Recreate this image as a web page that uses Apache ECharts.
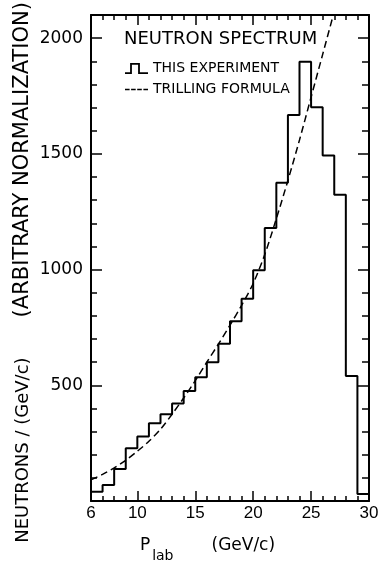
<!DOCTYPE html>
<html>
<head>
<meta charset="utf-8">
<script src="https://cdn.jsdelivr.net/npm/echarts@6/dist/echarts.min.js"></script>
<style>
html,body{margin:0;padding:0;background:#fff;}
#chart{width:382px;height:561px;}
</style>
</head>
<body>
<div id="chart"></div>
<script>
// ---- data ----
// histogram bins (lower edge, GeV/c), width 1 GeV/c
const binStarts = [6,7,8,9,10,11,12,13,14,15,16,17,18,19,20,21,22,23,24,25,26,27,28,29];
const binWidth = 1;
const counts = [40,69,138,228,279,336,375,421,475,535,600,680,777,874,997,1180,1375,1668,1898,1701,1493,1323,540,30];
// Trilling formula curve
const trillingP = [6,7,8,9,10,11,12,13,14,15,16,17,18,19,20,21,22,23,24,25,26,27];
const trillingN = [92,115,143,176,215,258,310,375,445,520,600,678,760,845,940,1065,1220,1385,1560,1745,1930,2115];
// ticks
const xTickLabels = [6,10,15,20,25,30];
const xMajorTicks = [10,15,20,25];
const xMinorTicks = [7,8,9,11,12,13,14,16,17,18,19,21,22,23,24,26,27,28,29];
const yTickLabels = [500,1000,1500,2000];
const yMinorTicks = [100,200,300,400,600,700,800,900,1100,1200,1300,1400,1600,1700,1800,1900];

const FONT = "'DejaVu Sans', sans-serif";
const INK = '#000';

const histData = binStarts.map((x, i) => [x, counts[i]]);
histData.push([binStarts[binStarts.length - 1] + binWidth, counts[counts.length - 1]]);
const trillingData = trillingP.map((x, i) => [x, trillingN[i]]);

const stepIcon = 'path://M0,9.2H5.1V0H14.9V9.2H23V11H13.1V1.8H6.9V11H0Z';
const dashIcon = 'path://M0,0h0.01v0.01h-0.01z M22.99,10.99h0.01v0.01h-0.01z M0,4.7h4.6v1.6h-4.6z M6.1,4.7h4.6v1.6h-4.6z M12.2,4.7h4.6v1.6h-4.6z M18.4,4.7h4.6v1.6h-4.6z';

function xAx(pos, ticks, len, showLine, showLabel) {
  return {
    type: 'value', min: 6, max: 30, interval: 1, position: pos,
    axisLine: { show: showLine, onZero: false, lineStyle: { color: INK, width: 2 } },
    axisTick: { show: true, inside: true, length: len, customValues: ticks, lineStyle: { color: INK, width: 1.5 } },
    axisLabel: showLabel ? { show: true, customValues: xTickLabels, margin: 4, color: INK,
      fontFamily: "'Liberation Sans', sans-serif", fontSize: 17, formatter: v => String(v) } : { show: false },
    splitLine: { show: false }
  };
}
function yAx(pos, ticks, len, showLine, showLabel) {
  return {
    type: 'value', min: 0, max: 2100, interval: 500, position: pos,
    axisLine: { show: showLine, onZero: false, lineStyle: { color: INK, width: 2 } },
    axisTick: { show: true, inside: true, length: len, customValues: ticks, lineStyle: { color: INK, width: 1.5 } },
    axisLabel: showLabel ? { show: true, customValues: yTickLabels, margin: 8, color: INK,
      fontFamily: FONT, fontSize: 17, formatter: v => String(v) } : { show: false },
    splitLine: { show: false }
  };
}

const xMain = xAx('bottom', xMajorTicks, 10, true, true);
xMain.name = '{p|P}{s|lab}{t|(GeV/c)}';
xMain.nameLocation = 'middle';
xMain.nameGap = 36;
xMain.nameMoveOverlap = false;
xMain.nameTextStyle = {
  padding: [0, 45, 0, 0],
  rich: {
    p: { fontFamily: FONT, fontSize: 17, lineHeight: 20, color: INK, verticalAlign: 'top' },
    s: { fontFamily: FONT, fontSize: 14, lineHeight: 16, color: INK, verticalAlign: 'top', padding: [12, 0, 0, 2] },
    t: { fontFamily: FONT, fontSize: 17, lineHeight: 20, color: INK, verticalAlign: 'top', padding: [0, 0, 0, 38] }
  }
};

const yMain = yAx('left', yTickLabels, 11, true, true);
yMain.name = '{a|NEUTRONS / (GeV/c)}{b|(ARBITRARY NORMALIZATION)}';
yMain.nameLocation = 'middle';
yMain.nameRotate = 90;
yMain.nameGap = 56;
yMain.nameMoveOverlap = false;
yMain.nameTextStyle = {
  padding: [0, 29, 0, 0],
  rich: {
    a: { fontFamily: FONT, fontSize: 18, lineHeight: 24, color: INK },
    b: { fontFamily: FONT, fontSize: 21, lineHeight: 24, color: INK, padding: [0, 0, 0, 40] }
  }
};

const chart = echarts.init(document.getElementById('chart'), null, { renderer: 'canvas' });
chart.setOption({
  animation: false,
  backgroundColor: '#fff',
  title: {
    text: 'NEUTRON SPECTRUM', left: 124, top: 29.5, padding: 0,
    textStyle: { fontFamily: FONT, fontSize: 18, lineHeight: 20, fontWeight: 'normal', color: INK }
  },
  legend: {
    orient: 'vertical', left: 125, top: 61.5, padding: 0,
    itemWidth: 23, itemHeight: 11, itemGap: 7,
    textStyle: { fontFamily: FONT, fontSize: 14, lineHeight: 14, color: INK },
    data: [
      { name: 'THIS EXPERIMENT', icon: stepIcon, itemStyle: { color: INK, borderWidth: 0 } },
      { name: 'TRILLING FORMULA', icon: dashIcon, itemStyle: { color: INK, borderWidth: 0 } }
    ]
  },
  grid: { left: 91, right: 13, top: 15, bottom: 60, outerBoundsMode: 'none', containLabel: false },
  xAxis: [
    xMain,
    xAx('bottom', xMinorTicks, 5, false, false),
    xAx('top', xMajorTicks, 10, true, false),
    xAx('top', xMinorTicks, 5, false, false)
  ],
  yAxis: [
    yMain,
    yAx('left', yMinorTicks, 6, false, false),
    yAx('right', yTickLabels, 11, true, false),
    yAx('right', yMinorTicks, 7, false, false)
  ],
  series: [
    {
      name: 'THIS EXPERIMENT', type: 'line', step: 'end', xAxisIndex: 0, yAxisIndex: 0,
      symbol: 'none', data: histData, color: INK,
      lineStyle: { color: INK, width: 2 }, itemStyle: { color: INK }
    },
    {
      name: 'TRILLING FORMULA', type: 'line', smooth: 0.3, xAxisIndex: 0, yAxisIndex: 0,
      symbol: 'none', data: trillingData, color: INK, clip: true,
      lineStyle: { color: INK, width: 1.5, type: [7, 4] }, itemStyle: { color: INK }
    }
  ]
});
</script>
</body>
</html>
